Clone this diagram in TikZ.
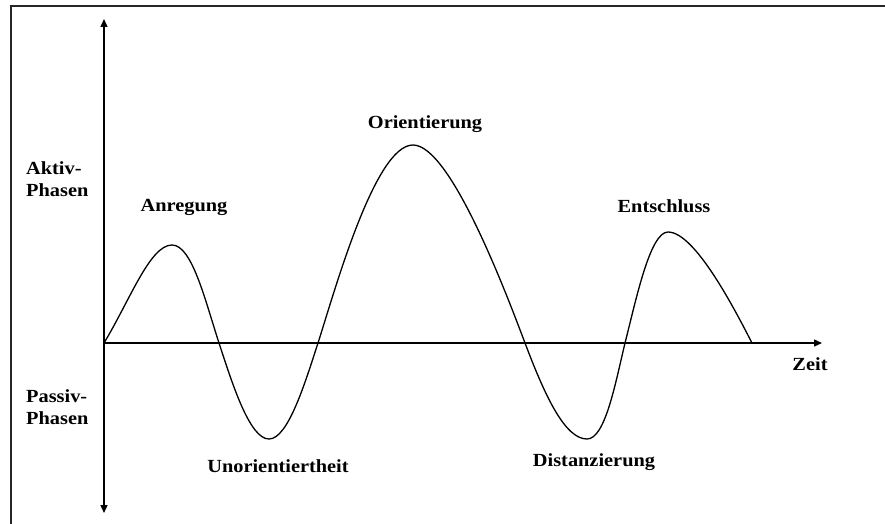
\documentclass[tikz,border=0pt]{standalone}
\usepackage{fontspec}
\setmainfont{Liberation Serif}[FakeStretch=1.1]
\usetikzlibrary{arrows.meta,positioning}
\tikzset{
  >={Triangle[length=8pt,width=7pt]},
  frame/.style={line width=2pt,black!85},
  axis/.style={line width=1.3pt},
  wave/.style={line width=1.3pt},
  phaselbl/.style={font=\bfseries\fontsize{18.5}{22}\selectfont,inner sep=0pt},
  phaselbl2/.style={phaselbl,anchor=west,align=left},
}

\begin{document}
\begin{tikzpicture}[x=1pt,y=-1pt]
  \useasboundingbox (0,0) rectangle (885,524);
  % cut frame, top and left only
  \draw[frame] (11,524) -- (11,6) -- (885,6);
  % axes
  \coordinate (O) at (104,343);
  \coordinate (ytop) at (104,19);
  \coordinate (ybot) at (104,513);
  \coordinate (xend) at (822,343);
  \draw[axis,<->] (ybot) -- (ytop);
  \draw[axis,->] (O) -- (xend);
  % the wave
  \draw[wave] (O)
    .. controls (130,300) and (150,245) .. (172,245)
    .. controls (192,245) and (205,300) .. (219,343)
    .. controls (233,386) and (250,439) .. (269,439)
    .. controls (288,439) and (305,383) .. (318,343)
    .. controls (335,290) and (375,145) .. (413,145)
    .. controls (450,145) and (505,290) .. (525,343)
    .. controls (545,396) and (565,439) .. (587,439)
    .. controls (605,439) and (615,385) .. (625,343)
    .. controls (636,300) and (650,232) .. (668,232)
    .. controls (695,232) and (735,310) .. (752,343);
  % labels
  \node[phaselbl2] (aktiv) at (26,179) {Aktiv-\\Phasen};
  \node[phaselbl2] (passiv) at (26,407) {Passiv-\\Phasen};
  \node[phaselbl] (anr) at (184,207) {Anregung};
  \node[phaselbl] (ori) at (425,124) {Orientierung};
  \node[phaselbl] (ent) at (664,206) {Entschluss};
  \node[phaselbl] (unori) at (278,466) {Unorientiertheit};
  \node[phaselbl] (dist) at (594,462) {Distanzierung};
  \node[phaselbl] (zeit) at (810,364) {Zeit};
\end{tikzpicture}
\end{document}
